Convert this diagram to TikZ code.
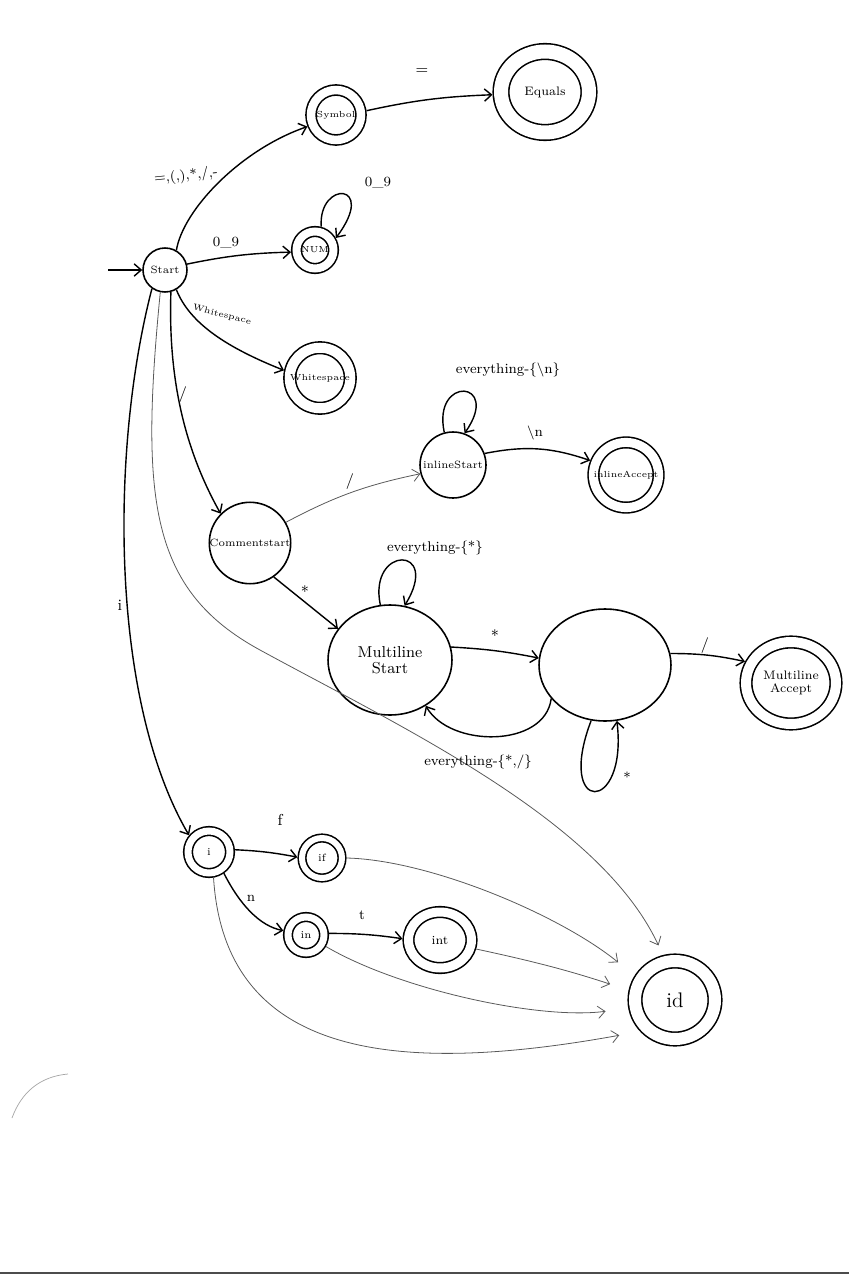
\documentclass[tikz,border=0pt]{standalone}
\usetikzlibrary{arrows.meta,shapes.geometric}
\begin{document}
\begin{tikzpicture}[x=0.02cm,y=0.02cm,
  st/.style={circle,draw,line width=0.9pt,inner sep=0pt,align=center},
  el/.style={ellipse,draw,line width=0.9pt,inner sep=0pt,align=center},
  acc/.style={double,double distance=#1,outer sep=0.5*#1+0.9pt},
  ed/.style={line width=0.8pt,-{Straight Barb[length=4pt,width=7pt]}},
  faint/.style={line width=0.45pt,draw=black!65,-{Straight Barb[length=4pt,width=7pt]}},
  lab/.style={inner sep=1pt,font=\footnotesize},
  f/.style={font=\fontsize{#1}{#1}\selectfont}]
\useasboundingbox (0,0) rectangle (849,-1280);
\fill[white] (0,0) rectangle (849,-1280);

% states
\node[st,f=6,minimum size=0.88cm] (start) at (165,-270) {Start};
\node[st,acc=0.17cm,f=5,minimum size=1.0cm] (symbol) at (336,-115) {Symbol};
\node[el,acc=0.28cm,f=7,minimum width=1.76cm,minimum height=1.62cm] (equals) at (545,-92) {Equals};
\node[st,acc=0.16cm,f=5,minimum size=0.74cm] (num) at (315,-250) {NUM};
\node[st,acc=0.2cm,f=5,minimum size=1.18cm] (ws) at (320,-378) {Whitespace};
\node[st,f=6,minimum size=1.4cm] (comment) at (250,-543) {Commentstart};
\node[st,f=6,minimum size=1.32cm] (inl) at (453,-465) {inlineStart};
\node[st,acc=0.18cm,f=5,minimum size=1.2cm] (inlacc) at (626,-475) {inlineAccept};
\node[el,f=9,minimum width=2.48cm,minimum height=2.2cm] (ml) at (390,-660) {Multiline\\Start};
\node[el,minimum width=2.64cm,minimum height=2.24cm] (mid) at (605,-665) {};
\node[el,acc=0.2cm,f=7,minimum width=1.8cm,minimum height=1.64cm] (mlacc) at (791,-683) {Multiline\\Accept};
\node[st,acc=0.14cm,f=6,minimum size=0.84cm] (si) at (209,-852) {i};
\node[st,acc=0.12cm,f=6,minimum size=0.8cm] (sif) at (322,-858) {if};
\node[st,acc=0.14cm,f=6,minimum size=0.72cm] (sin) at (306,-935) {in};
\node[el,acc=0.18cm,f=7,minimum width=1.26cm,minimum height=1.12cm] (sint) at (440,-940) {int};
\node[el,acc=0.24cm,f=12,minimum width=1.6cm,minimum height=1.56cm] (sid) at (675,-1000) {id};

% entry arrow
\coordinate (init) at (108,-270);
\draw[ed] (init) -- (start);

% transitions out of Start
\draw[ed] (start.60) .. controls (183,-210) and (240,-150) .. (symbol.202);
\draw[ed] (symbol.8) to[bend left=5] (equals.183);
\draw[ed] (start.15) to[bend left=5] (num.185);
\draw[ed] (num.75) .. controls (318,-180) and (378,-182) .. (num.30);
\draw[ed] (start.300) .. controls (190,-324) and (228,-348) .. (ws.168);
\draw[ed] (start.285) .. controls (168,-380) and (185,-450) .. (comment.135);
\draw[ed] (start.235) .. controls (110,-450) and (110,-700) .. (si.140);
\draw[faint,shorten >=6pt] (start.258) .. controls (140,-500) and (150,-590) .. (260,-650)
  .. controls (403,-728) and (600,-820) .. (sid.105);

% comments
\draw[faint] (comment.30) to[bend left=8] (inl.195);
\draw[ed] (inl.105) .. controls (432,-375) and (502,-380) .. (inl.70);
\draw[ed] (inl.20) to[bend left=15] (inlacc.158);
\draw[ed] (comment.-55) -- (ml.149);
\draw[ed] (ml.100) .. controls (368,-545) and (442,-545) .. (ml.75);
\draw[ed] (ml.12) to[bend left=4] (mid.174);
\draw[ed] (mid.212) .. controls (545,-748) and (450,-748) .. (ml.-52);
\draw[ed] (mid.256) .. controls (555,-815) and (628,-815) .. (mid.282);
\draw[ed] (mid.10) to[bend left=6] (mlacc.155);

% keywords
\draw[ed] (si.5) to[bend left=4] (sif.178);
\draw[ed] (si.-55) .. controls (240,-905) and (260,-926) .. (sin.169);
\draw[ed] (sin.4) to[bend left=4] (sint.178);
\draw[faint,shorten >=12pt] (sif.0) .. controls (430,-860) and (560,-915) .. (sid.149);
\draw[faint,shorten >=11pt] (sint.-14) to[bend left=3] (sid.168);
\draw[faint,shorten >=13pt] (sin.-30) .. controls (400,-990) and (540,-1020) .. (sid.190);
\draw[faint,shorten >=12pt] (si.-80) .. controls (225,-1060) and (400,-1075) .. (sid.222);

% transition labels
\node[lab,rotate=6] (lsym) at (186,-176) {=,(,),*,/,-};
\node[lab,font=\small] (leq) at (422,-72) {=};
\node[lab] (lnum) at (226,-243) {0\_9};
\node[lab] (lnumloop) at (378,-183) {0\_9};
\node[lab,font=\tiny,rotate=-14] (lws) at (222,-315) {Whitespace};
\node[lab,font=\small] (lcom) at (183,-395) {/};
\node[lab,font=\small] (li) at (120,-605) {i};
\node[lab,font=\small] (linl) at (350,-482) {/};
\node[lab] (linlloop) at (508,-370) {everything-\{\textbackslash n\}};
\node[lab] (lnl) at (535,-433) {\textbackslash n};
\node[lab,font=\small] (lstar) at (305,-592) {*};
\node[lab] (lmlloop) at (435,-548) {everything-\{*\}};
\node[lab,font=\small] (lmid) at (495,-636) {*};
\node[lab,font=\small] (lacc) at (705,-646) {/};
\node[lab] (lback) at (478,-762) {everything-\{*,/\}};
\node[lab] (lmidloop) at (627,-777) {*};
\node[lab,font=\small] (lf) at (280,-820) {f};
\node[lab] (ln) at (251,-898) {n};
\node[lab] (lt) at (362,-915) {t};

% sheet edge
\draw[black!35,line width=0.4pt] (12,-1118) to[out=70,in=185] (68,-1074);
\draw[black!70,line width=1.2pt] (0,-1273) -- (849,-1273);
\end{tikzpicture}
\end{document}
